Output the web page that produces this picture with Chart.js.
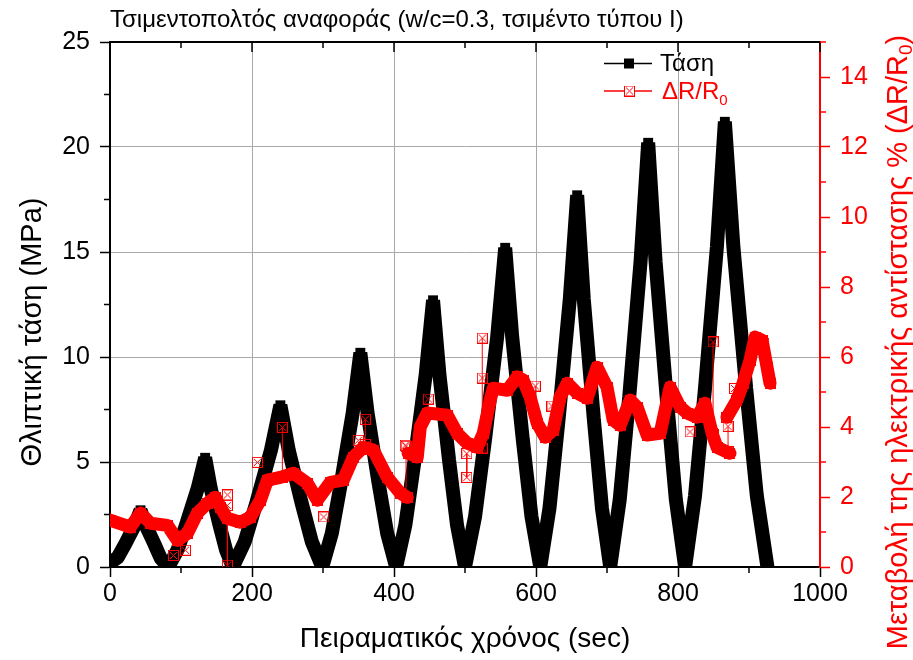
<!DOCTYPE html>
<html><head><meta charset="utf-8">
<script src="https://cdn.jsdelivr.net/npm/chart.js@4/dist/chart.umd.min.js"></script>
<style>html,body{margin:0;padding:0;background:#fff}#wrap{width:913px;height:660px}</style>
</head><body><div id="wrap"><canvas id="c" width="913" height="660"></canvas></div>
<script>
// ---- data ----
const stressTime = [0, 10.75, 21.5, 34.4, 43, 50.8, 62.5, 71.25, 82,
  95, 108, 123.6, 134, 141.8, 153.5, 163.25, 173,
  189.75, 206.5, 226.6, 240, 251.8, 269.5, 284.25, 299,
  312.4, 325.8, 341.9, 352.6, 362.7, 377.8, 390.4, 403,
  416, 429, 444.6, 455, 464, 477.5, 488.75, 500,
  514.15, 528.3, 545.3, 556.6, 566.5, 581.3, 593.65, 606,
  619, 632, 647.6, 658, 667.3, 681.3, 692.9, 704.5,
  717.9, 731.3, 747.3, 758, 768.4, 784, 797, 810,
  824, 838, 854.8, 866, 878, 896, 911, 926];
const stressMPa = [0.2, 0.45, 1.1, 1.95, 2.7, 1.95, 1.1, 0.43, 0,
  0.8, 2.1, 3.75, 5.2, 3.75, 2.1, 0.83, 0,
  1.2, 3.1, 5.55, 7.7, 5.55, 3.1, 1.2, 0,
  1.6, 4.1, 7.35, 10.2, 7.35, 4.1, 1.6, 0,
  2.0, 5.1, 9.15, 12.7, 9.15, 5.1, 2.0, 0,
  2.4, 6.1, 10.95, 15.2, 10.95, 6.1, 2.4, 0,
  2.8, 7.1, 12.75, 17.7, 12.75, 7.1, 2.8, 0,
  3.2, 8.1, 14.55, 20.2, 14.55, 8.1, 3.2, 0,
  3.4, 8.5, 15.25, 21.2, 15.25, 8.5, 3.4, 0];

const resTime = [0, 28.9, 42.9, 57, 80.9, 95, 109, 123, 137, 148.5, 155.5, 165, 183.7, 197.8, 211.9, 221.7, 240, 258.3, 278, 292, 310.3, 328.6, 342.7, 356.8, 370.9, 390.6, 408.9, 418.7, 419,
  420, 432.8, 437, 446.9, 475, 489, 503, 517, 525.7, 535.5, 539.8, 559.5, 573.5, 582, 591.8, 601.7, 613, 624.2, 634, 644, 658, 672, 686, 700, 708.7, 718.5, 732.6, 742.4, 756.5, 774.8, 788.9, 803, 812.8, 826.8, 838, 848, 855, 873.2, 871,
  869, 883, 891.6, 901.5, 908.6, 918.4, 925.4, 929.6];
const resPct = [1.34, 1.14, 1.54, 1.25, 1.19, 0.76, 0.96, 1.54, 1.82, 1.99, 1.71, 1.39, 1.28, 1.42, 1.91, 2.48, 2.56, 2.68, 2.39, 1.91, 2.42, 2.48, 3.14, 3.42, 3.34, 2.56, 2.11, 1.99, null,
  3.25, 3.14, 4.0, 4.4, 4.34, 3.82, 3.54, 3.42, 3.82, 4.77, 5.11, 5.05, 5.43, 5.34, 4.85, 4.11, 3.71, 3.91, 4.85, 5.25, 4.97, 4.82, 5.71, 5.14, 4.2, 4.05, 4.77, 4.57, 3.77, 3.82, 5.14, 4.57, 4.4, 4.28, 4.68, 3.82, 3.42, 3.25, null,
  4.28, 4.77, 5.25, 5.91, 6.57, 6.48, 5.71, 5.25];

const spikeTime = [165.4, 242.8, 359.6, 417, 502.5, 524.3, 599, 849.4, 870.5];
const spikeFrom = [1.39, 2.56, 3.5, 2.0, 3.24, 3.4, 4.3, 3.8, 3.3];
const spikeTo   = [0.05, 3.99, 4.22, 3.45, 2.56, 6.54, 5.17, 6.43, 4.02];

const outlierTime = [89.4, 106.3, 165.4, 165.4, 207.6, 301, 349.8, 415.9, 448.3, 524.3, 622.4, 817, 879.5, 921];
const outlierPct  = [0.33, 0.48, 2.06, 1.76, 2.99, 1.43, 3.62, 3.48, 4.8, 5.4, 4.6, 3.86, 5.1, 6.39];

const xMajorTicks = [0, 200, 400, 600, 800, 1000];
const xMinorTicks = [100, 300, 500, 700, 900];
const yMinorTicks = [2.5, 7.5, 12.5, 17.5, 22.5];
const y1MinorTicks = [1, 3, 5, 7, 9, 11, 13, 15];

const TITLE = 'Τσιμεντοπολτός αναφοράς (w/c=0.3, τσιμέντο τύπου I)';
const XTITLE = 'Πειραματικός χρόνος (sec)';
const YTITLE = 'Θλιπτική τάση (MPa)';
const Y1TITLE = 'Μεταβολή της ηλεκτρικής αντίστασης % (ΔR/R';
const LEG1 = 'Τάση';
const LEG2 = 'ΔR/R';

// ---- styling ----
const FAM = "'Liberation Sans', Arial, sans-serif";
const RED = '#ff0000';
const GRID = '#a9a9a9';

function crossBox(size, color) {
  const c = document.createElement('canvas');
  c.width = size; c.height = size;
  const g = c.getContext('2d');
  g.strokeStyle = color; g.lineWidth = 1;
  g.strokeRect(0.5, 0.5, size - 1, size - 1);
  g.beginPath();
  g.moveTo(2, 2); g.lineTo(size - 2, size - 2);
  g.moveTo(size - 2, 2); g.lineTo(2, size - 2);
  g.stroke();
  return c;
}
const crossImg = crossBox(11, RED);

const stressData = stressTime.map((t, i) => ({x: t, y: stressMPa[i]}));
const resData = resTime.map((t, i) => ({x: t, y: resPct[i]}));
const spikeData = [];
spikeTime.forEach((t, i) => { spikeData.push({x: t, y: spikeFrom[i]}, {x: t, y: spikeTo[i]}, {x: t, y: null}); });
const outlierData = outlierTime.map((t, i) => ({x: t, y: outlierPct[i]}));

function rotatedText(ctx, cx, cy, parts) {
  // parts: [text, fontSize, baselineOffset]
  ctx.save();
  ctx.translate(cx, cy);
  ctx.rotate(-Math.PI / 2);
  ctx.textBaseline = 'middle';
  let total = 0;
  const widths = parts.map(p => { ctx.font = p[1] + 'px ' + FAM; const w = ctx.measureText(p[0]).width; total += w; return w; });
  let sx = -total / 2;
  parts.forEach((p, i) => { ctx.font = p[1] + 'px ' + FAM; ctx.fillText(p[0], sx, p[2]); sx += widths[i]; });
  ctx.restore();
}

const extras = {
  id: 'extras',
  afterDraw(chart) {
    const {ctx, chartArea: a, scales: {x, y, y1}} = chart;
    ctx.save();
    const line = (x1, y1_, x2, y2) => { ctx.beginPath(); ctx.moveTo(x1, y1_); ctx.lineTo(x2, y2); ctx.stroke(); };
    ctx.strokeStyle = '#000'; ctx.lineWidth = 2;
    line(a.left, a.top, a.right, a.top);
    ctx.lineWidth = 1.5;
    xMinorTicks.forEach(v => { const p = x.getPixelForValue(v); line(p, a.bottom, p, a.bottom + 6); line(p, a.top, p, a.top + 6); });
    xMajorTicks.forEach(v => { const p = x.getPixelForValue(v); line(p, a.top, p, a.top + 10); });
    yMinorTicks.forEach(v => { const p = y.getPixelForValue(v); line(a.left - 6, p, a.left, p); });
    ctx.strokeStyle = RED;
    y1MinorTicks.forEach(v => { const p = y1.getPixelForValue(v); line(a.right, p, a.right + 6, p); });

    // axis titles (read bottom to top)
    ctx.fillStyle = '#000';
    rotatedText(ctx, 33, 332, [[YTITLE, 29, 0]]);
    ctx.fillStyle = RED;
    rotatedText(ctx, 899, 342, [[Y1TITLE, 29, 0], ['0', 19, 8], [')', 29, 0]]);

    // legend
    ctx.strokeStyle = '#000'; ctx.lineWidth = 1.5;
    line(604, 63.5, 652, 63.5);
    ctx.fillStyle = '#000'; ctx.fillRect(624, 58.5, 10, 10);
    ctx.font = '24px ' + FAM; ctx.textBaseline = 'middle';
    ctx.fillText(LEG1, 660, 64);
    ctx.strokeStyle = RED;
    line(604, 91, 652, 91);
    ctx.fillStyle = '#fff'; ctx.fillRect(624, 85.5, 11, 11);
    ctx.drawImage(crossImg, 624, 85.5);
    ctx.fillStyle = RED;
    ctx.fillText(LEG2, 662, 92);
    const lw = ctx.measureText(LEG2).width;
    ctx.font = '15px ' + FAM;
    ctx.fillText('0', 662 + lw, 101);
    ctx.restore();
  }
};

new Chart(document.getElementById('c'), {
  type: 'line',
  data: {
    datasets: [
      {label: 'ΔR/R0 spikes', data: spikeData, yAxisID: 'y1', borderColor: RED, borderWidth: 1, pointStyle: crossImg, pointRadius: 5, spanGaps: false, clip: 0, order: 1},
      {label: 'ΔR/R0 out', data: outlierData, yAxisID: 'y1', showLine: false, pointStyle: crossImg, pointRadius: 5, clip: 0, order: 2},
      {label: 'ΔR/R0', data: resData, yAxisID: 'y1', borderColor: RED, borderWidth: 13, borderJoinStyle: 'round', borderCapStyle: 'round', pointStyle: crossImg, pointRadius: 5, spanGaps: false, clip: 0, order: 3},
      {label: 'Τάση', data: stressData, yAxisID: 'y', borderColor: '#000', borderWidth: 14, borderJoinStyle: 'bevel', pointStyle: 'rect', pointRadius: 7, pointBackgroundColor: '#000', pointBorderWidth: 0, clip: 0, order: 10}
    ]
  },
  options: {
    responsive: false,
    animation: false,
    events: [],
    layout: {padding: 0},
    plugins: {
      legend: {display: false},
      tooltip: {enabled: false},
      title: {display: true, text: TITLE, align: 'start', fullSize: false, color: '#000',
        font: {family: FAM, size: 24, weight: 'normal'}, padding: {top: 6, bottom: 7.2}}
    },
    scales: {
      x: {type: 'linear', position: 'bottom', min: 0, max: 1000,
        ticks: {stepSize: 200, color: '#000', font: {family: FAM, size: 25}, padding: 2, maxRotation: 0, callback: v => String(v)},
        grid: {color: c => (c.tick && c.tick.value > 0 && c.tick.value < 1000) ? GRID : 'rgba(0,0,0,0)', tickColor: '#000', tickLength: 10, tickWidth: 1.5, lineWidth: 1},
        border: {color: '#000', width: 2},
        title: {display: true, text: XTITLE, color: '#000', font: {family: FAM, size: 28}, padding: {top: 0, bottom: 4}},
        afterFit: s => { s.height = 93; }
      },
      y: {type: 'linear', position: 'left', min: 0, max: 25,
        ticks: {stepSize: 5, color: '#000', font: {family: FAM, size: 25}, padding: 10, callback: v => String(v)},
        grid: {color: c => (c.tick && c.tick.value > 0 && c.tick.value < 25) ? GRID : 'rgba(0,0,0,0)', tickColor: '#000', tickLength: 10, tickWidth: 1.5, lineWidth: 1},
        border: {color: '#000', width: 2},
        afterFit: s => { s.width = 110; }
      },
      y1: {type: 'linear', position: 'right', min: 0, max: 15,
        ticks: {stepSize: 2, color: RED, font: {family: FAM, size: 25}, padding: 10, includeBounds: false, callback: v => String(v)},
        grid: {drawOnChartArea: false, tickColor: RED, tickLength: 10, tickWidth: 1.5},
        border: {color: RED, width: 2},
        afterFit: s => { s.width = 93; }
      }
    }
  },
  plugins: [extras]
});
</script>
</body></html>
